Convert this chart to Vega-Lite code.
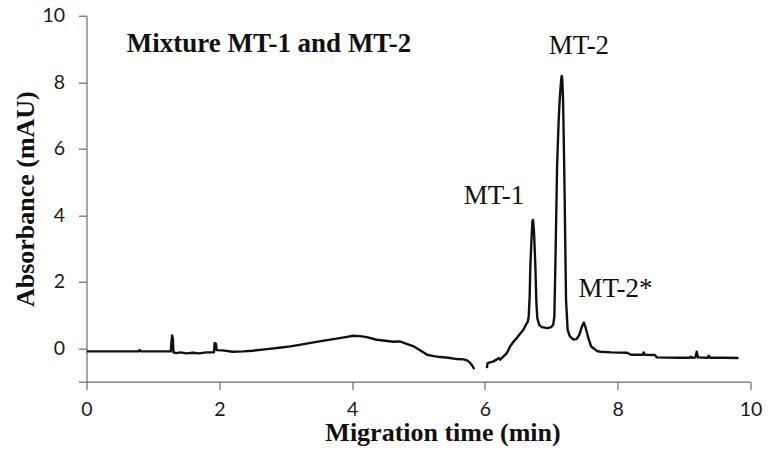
{
  "$schema": "https://vega.github.io/schema/vega-lite/v6.json",
  "width": 664,
  "height": 366,
  "autosize": {"type": "none"},
  "padding": {"left": 86.5, "top": 15.7, "right": 17.5, "bottom": 80},
  "background": "white",
  "config": {"view": {"stroke": null}},
  "datasets": {
    "trace": [
      {"t": 0, "a": -0.09, "s": 1}, {"t": 0.78, "a": -0.09, "s": 1}, {"t": 0.8, "a": -0.05, "s": 1}, {"t": 0.82, "a": -0.09, "s": 1},
      {"t": 1.27, "a": -0.09, "s": 1}, {"t": 1.28, "a": 0.2, "s": 1}, {"t": 1.29, "a": 0.39, "s": 1}, {"t": 1.3, "a": 0.3, "s": 1},
      {"t": 1.31, "a": -0.12, "s": 1}, {"t": 1.35, "a": -0.14, "s": 1}, {"t": 1.42, "a": -0.12, "s": 1}, {"t": 1.5, "a": -0.15, "s": 1},
      {"t": 1.6, "a": -0.13, "s": 1}, {"t": 1.7, "a": -0.15, "s": 1}, {"t": 1.8, "a": -0.12, "s": 1}, {"t": 1.92, "a": -0.12, "s": 1},
      {"t": 1.93, "a": 0.16, "s": 1}, {"t": 1.95, "a": 0.14, "s": 1}, {"t": 1.96, "a": -0.05, "s": 1}, {"t": 2.05, "a": -0.06, "s": 1},
      {"t": 2.2, "a": -0.1, "s": 1}, {"t": 2.36, "a": -0.09, "s": 1}, {"t": 2.5, "a": -0.07, "s": 1}, {"t": 2.72, "a": -0.02, "s": 1},
      {"t": 2.9, "a": 0.02, "s": 1}, {"t": 3.07, "a": 0.06, "s": 1}, {"t": 3.25, "a": 0.12, "s": 1}, {"t": 3.42, "a": 0.18, "s": 1},
      {"t": 3.6, "a": 0.24, "s": 1}, {"t": 3.72, "a": 0.28, "s": 1}, {"t": 3.9, "a": 0.34, "s": 1}, {"t": 4.02, "a": 0.38, "s": 1},
      {"t": 4.12, "a": 0.37, "s": 1}, {"t": 4.22, "a": 0.34, "s": 1}, {"t": 4.37, "a": 0.26, "s": 1}, {"t": 4.5, "a": 0.23, "s": 1},
      {"t": 4.62, "a": 0.2, "s": 1}, {"t": 4.72, "a": 0.21, "s": 1}, {"t": 4.83, "a": 0.13, "s": 1}, {"t": 4.93, "a": 0.06, "s": 1},
      {"t": 5.03, "a": -0.06, "s": 1}, {"t": 5.13, "a": -0.19, "s": 1}, {"t": 5.23, "a": -0.23, "s": 1}, {"t": 5.33, "a": -0.26, "s": 1},
      {"t": 5.45, "a": -0.28, "s": 1}, {"t": 5.58, "a": -0.32, "s": 1}, {"t": 5.68, "a": -0.33, "s": 1}, {"t": 5.73, "a": -0.36, "s": 1},
      {"t": 5.77, "a": -0.42, "s": 1}, {"t": 5.8, "a": -0.49, "s": 1}, {"t": 5.84, "a": -0.62, "s": 1},
      {"t": 6.03, "a": -0.59, "s": 2}, {"t": 6.04, "a": -0.44, "s": 2}, {"t": 6.13, "a": -0.39, "s": 2}, {"t": 6.18, "a": -0.33, "s": 2},
      {"t": 6.21, "a": -0.29, "s": 2}, {"t": 6.23, "a": -0.34, "s": 2}, {"t": 6.28, "a": -0.24, "s": 2}, {"t": 6.33, "a": -0.14, "s": 2},
      {"t": 6.38, "a": 0.06, "s": 2}, {"t": 6.43, "a": 0.2, "s": 2}, {"t": 6.48, "a": 0.31, "s": 2}, {"t": 6.53, "a": 0.44, "s": 2},
      {"t": 6.58, "a": 0.56, "s": 2}, {"t": 6.62, "a": 0.72, "s": 2}, {"t": 6.645, "a": 0.8, "s": 2}, {"t": 6.66, "a": 0.95, "s": 2},
      {"t": 6.675, "a": 1.6, "s": 2}, {"t": 6.684, "a": 2.46, "s": 2}, {"t": 6.7, "a": 3.2, "s": 2}, {"t": 6.715, "a": 3.8, "s": 2},
      {"t": 6.725, "a": 3.86, "s": 2}, {"t": 6.74, "a": 3.5, "s": 2}, {"t": 6.76, "a": 2.46, "s": 2}, {"t": 6.775, "a": 1.4, "s": 2},
      {"t": 6.79, "a": 0.9, "s": 2}, {"t": 6.82, "a": 0.7, "s": 2}, {"t": 6.86, "a": 0.64, "s": 2}, {"t": 6.94, "a": 0.61, "s": 2},
      {"t": 7.0, "a": 0.64, "s": 2}, {"t": 7.03, "a": 0.72, "s": 2}, {"t": 7.046, "a": 0.96, "s": 2}, {"t": 7.061, "a": 2.46, "s": 2},
      {"t": 7.087, "a": 5.47, "s": 2}, {"t": 7.11, "a": 6.8, "s": 2}, {"t": 7.126, "a": 7.47, "s": 2}, {"t": 7.15, "a": 8.1, "s": 2},
      {"t": 7.157, "a": 8.19, "s": 2}, {"t": 7.165, "a": 8.1, "s": 2}, {"t": 7.177, "a": 7.47, "s": 2}, {"t": 7.19, "a": 6.0, "s": 2},
      {"t": 7.202, "a": 4.47, "s": 2}, {"t": 7.212, "a": 2.9, "s": 2}, {"t": 7.222, "a": 1.46, "s": 2}, {"t": 7.246, "a": 0.56, "s": 2},
      {"t": 7.28, "a": 0.36, "s": 2}, {"t": 7.33, "a": 0.27, "s": 2}, {"t": 7.38, "a": 0.28, "s": 2}, {"t": 7.42, "a": 0.4, "s": 2},
      {"t": 7.46, "a": 0.65, "s": 2}, {"t": 7.49, "a": 0.78, "s": 2}, {"t": 7.52, "a": 0.6, "s": 2}, {"t": 7.56, "a": 0.3, "s": 2},
      {"t": 7.6, "a": 0.06, "s": 2}, {"t": 7.64, "a": 0.0, "s": 2}, {"t": 7.69, "a": -0.08, "s": 2}, {"t": 7.74, "a": -0.1, "s": 2},
      {"t": 7.9, "a": -0.12, "s": 2}, {"t": 8.14, "a": -0.13, "s": 2}, {"t": 8.2, "a": -0.19, "s": 2}, {"t": 8.38, "a": -0.19, "s": 2},
      {"t": 8.39, "a": -0.12, "s": 2}, {"t": 8.41, "a": -0.19, "s": 2}, {"t": 8.56, "a": -0.2, "s": 2}, {"t": 8.59, "a": -0.27, "s": 2},
      {"t": 8.9, "a": -0.28, "s": 2}, {"t": 9.08, "a": -0.28, "s": 2}, {"t": 9.1, "a": -0.25, "s": 2}, {"t": 9.12, "a": -0.28, "s": 2},
      {"t": 9.17, "a": -0.27, "s": 2}, {"t": 9.19, "a": -0.1, "s": 2}, {"t": 9.21, "a": -0.27, "s": 2}, {"t": 9.36, "a": -0.28, "s": 2},
      {"t": 9.37, "a": -0.22, "s": 2}, {"t": 9.39, "a": -0.28, "s": 2}, {"t": 9.6, "a": -0.28, "s": 2}, {"t": 9.82, "a": -0.29, "s": 2}
    ],
    "peaks": [
      {"label": "MT-1", "t": 5.68, "a": 4.34},
      {"label": "MT-2", "t": 6.96, "a": 8.85},
      {"label": "MT-2*", "t": 7.41, "a": 1.56}
    ],
    "heading": [
      {"label": "Mixture MT-1 and MT-2", "t": 0.606, "a": 8.92}
    ]
  },
  "layer": [
    {
      "data": {"name": "trace"},
      "mark": {"type": "line", "color": "#111111", "strokeWidth": 2.4, "strokeJoin": "round", "clip": true},
      "encoding": {
        "x": {
          "field": "t", "type": "quantitative",
          "scale": {"domain": [0, 10], "nice": false, "zero": false},
          "axis": {
            "values": [0, 2, 4, 6, 8, 10],
            "format": "d",
            "title": "Migration time (min)",
            "titleFont": "Liberation Serif", "titleFontWeight": "bold", "titleFontSize": 26, "titleColor": "#111111",
            "titlePadding": 0, "titleX": 356, "titleAlign": "center",
            "labelFont": "Lato", "labelFontSize": 19.5, "labelColor": "#1a1a1a", "labelPadding": 11,
            "domainColor": "#6b6b6b", "domainWidth": 1.2, "tickColor": "#6b6b6b", "tickWidth": 1.2, "tickSize": 8,
            "grid": false, "labelFlush": false, "labelOverlap": false
          }
        },
        "y": {
          "field": "a", "type": "quantitative",
          "scale": {"domain": [-1, 10], "nice": false, "zero": false},
          "axis": {
            "values": [-1, 0, 2, 4, 6, 8, 10],
            "labelExpr": "datum.value == -1 ? '' : format(datum.value, 'd')",
            "title": "Absorbance (mAU)",
            "titleFont": "Liberation Serif", "titleFontWeight": "bold", "titleFontSize": 26, "titleColor": "#111111",
            "titlePadding": 3,
            "labelFont": "Lato", "labelFontSize": 19.5, "labelColor": "#1a1a1a", "labelPadding": 14,
            "domainColor": "#6b6b6b", "domainWidth": 1.2, "tickColor": "#6b6b6b", "tickWidth": 1.2, "tickSize": 8,
            "grid": false, "labelFlush": false, "labelOverlap": false
          }
        },
        "detail": {"field": "s", "type": "nominal"},
        "order": {"field": "t", "type": "quantitative"}
      }
    },
    {
      "data": {"name": "peaks"},
      "mark": {"type": "text", "font": "Liberation Serif", "fontSize": 27, "align": "left", "baseline": "alphabetic", "color": "#111111"},
      "encoding": {
        "x": {"field": "t", "type": "quantitative"},
        "y": {"field": "a", "type": "quantitative"},
        "text": {"field": "label", "type": "nominal"}
      }
    },
    {
      "data": {"name": "heading"},
      "mark": {"type": "text", "font": "Liberation Serif", "fontSize": 27, "fontWeight": "bold", "align": "left", "baseline": "alphabetic", "color": "#111111"},
      "encoding": {
        "x": {"field": "t", "type": "quantitative"},
        "y": {"field": "a", "type": "quantitative"},
        "text": {"field": "label", "type": "nominal"}
      }
    }
  ]
}
